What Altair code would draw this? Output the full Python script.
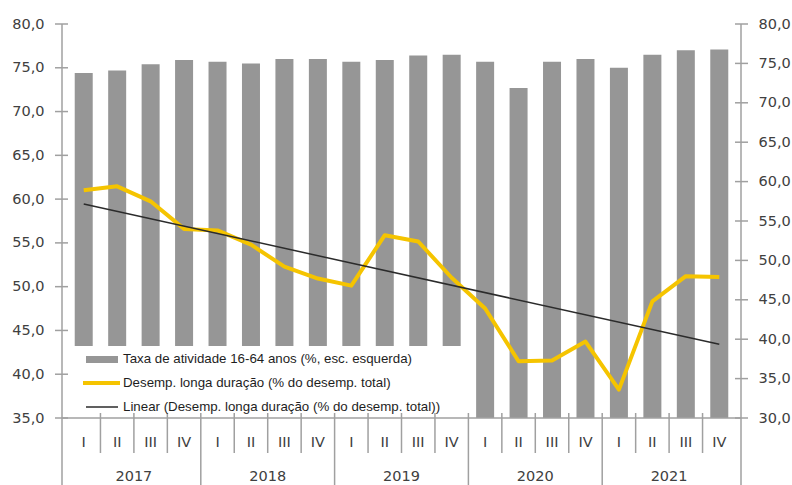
import altair as alt
import pandas as pd

# Quarterly categories
quarters = ["I", "II", "III", "IV"] * 5
years = ["2017"] * 4 + ["2018"] * 4 + ["2019"] * 4 + ["2020"] * 4 + ["2021"] * 4

# Activity rate 16-64 (%), left axis
activity_rate = [74.4, 74.7, 75.4, 75.9,
                 75.7, 75.5, 76.0, 76.0,
                 75.7, 75.9, 76.4, 76.5,
                 75.7, 72.7, 75.7, 76.0,
                 75.0, 76.5, 77.0, 77.1]

# Long-term unemployment (% of total unemployment), right axis
long_term_unemp = [58.9, 59.4, 57.5, 54.0,
                   53.8, 52.0, 49.2, 47.7,
                   46.8, 53.2, 52.4, 47.8,
                   43.9, 37.2, 37.3, 39.7,
                   33.6, 44.8, 48.0, 47.9]

left_ticks = [35, 40, 45, 50, 55, 60, 65, 70, 75, 80]
right_ticks = [30, 35, 40, 45, 50, 55, 60, 65, 70, 75, 80]

legend_labels = [
    "Taxa de atividade 16-64 anos (%, esc. esquerda)",
    "Desemp. longa duração (% do desemp. total)",
    "Linear (Desemp. longa duração (% do desemp. total))",
]

df = pd.DataFrame({
    "t": list(range(1, len(quarters) + 1)),
    "quarter": quarters,
    "year": years,
    "activity": activity_rate,
    "ltu": long_term_unemp,
})

W, H = 679, 394
GRAY_BAR = "#969696"
YELLOW = "#F5C400"
AXIS_GRAY = "#a0a0a0"
TEXT = "#404040"
FONT = "DejaVu Sans"

x_scale = alt.Scale(domain=[0.5, len(quarters) + 0.5], nice=False, zero=False)
left_scale = alt.Scale(domain=[left_ticks[0], left_ticks[-1]], nice=False, zero=False)
right_scale = alt.Scale(domain=[right_ticks[0], right_ticks[-1]], nice=False, zero=False)
label_expr = "replace(format(datum.value, '.1f'), '.', ',')"

base = alt.Chart(df)

bars = base.mark_bar(size=18, color=GRAY_BAR).encode(
    x=alt.X("t:Q", scale=x_scale, axis=None),
    y=alt.Y("activity:Q", scale=left_scale,
            axis=alt.Axis(orient="left", values=left_ticks, labelExpr=label_expr,
                          ticks=False, domain=False, grid=False, labelPadding=18,
                          labelFont=FONT, labelFontSize=14.5, labelColor=TEXT, title=None)),
    y2=alt.datum(left_ticks[0]),
)

# White legend box sitting over the lower part of the bars
legend_box = alt.Chart(pd.DataFrame({"k": [0]})).mark_rect(color="white").encode(
    x=alt.value(0), x2=alt.value(403), y=alt.value(322), y2=alt.value(H),
)

ltu_line = base.mark_line(color=YELLOW, strokeWidth=4, strokeJoin="round").encode(
    x=alt.X("t:Q", scale=x_scale, axis=None),
    y=alt.Y("ltu:Q", scale=right_scale,
            axis=alt.Axis(orient="right", values=right_ticks, labelExpr=label_expr,
                          ticks=False, domain=False, grid=False, labelPadding=17,
                          labelFont=FONT, labelFontSize=14.5, labelColor=TEXT, title=None)),
)

trend = base.transform_regression("t", "ltu").mark_line(color="#2b2b2b", strokeWidth=1.5).encode(
    x=alt.X("t:Q", scale=x_scale, axis=None),
    y=alt.Y("ltu:Q", scale=right_scale, axis=None),
)

# Cross-style tick marks on both value axes
left_tick_marks = alt.Chart(pd.DataFrame({"v": left_ticks})).mark_rule(
    color=AXIS_GRAY, strokeWidth=1.5).encode(
    y=alt.Y("v:Q", scale=left_scale, axis=None), x=alt.value(-7), x2=alt.value(6),
)
right_tick_marks = alt.Chart(pd.DataFrame({"v": right_ticks})).mark_rule(
    color=AXIS_GRAY, strokeWidth=1.5).encode(
    y=alt.Y("v:Q", scale=right_scale, axis=None), x=alt.value(W - 6), x2=alt.value(W + 7),
)

# Axis lines (value axes run down through the category labels)
frame = alt.Chart(pd.DataFrame({"k": [0]}))
left_line = frame.mark_rule(color=AXIS_GRAY, strokeWidth=1.5).encode(
    x=alt.value(0), y=alt.value(0), y2=alt.value(470))
right_line = frame.mark_rule(color=AXIS_GRAY, strokeWidth=1.5).encode(
    x=alt.value(W), y=alt.value(0), y2=alt.value(470))
bottom_line = frame.mark_rule(color=AXIS_GRAY, strokeWidth=1.5).encode(
    x=alt.value(0), x2=alt.value(W), y=alt.value(H))

# Category separators: short between quarters, long between years
quarter_sep = base.transform_filter("datum.t % 4 != 0").transform_calculate(
    b="datum.t + 0.5").mark_rule(color=AXIS_GRAY, strokeWidth=1.5).encode(
    x=alt.X("b:Q", scale=x_scale, axis=None), y=alt.value(389), y2=alt.value(429))
year_sep = base.transform_filter(f"datum.t % 4 == 0 && datum.t < {len(quarters)}").transform_calculate(
    b="datum.t + 0.5").mark_rule(color=AXIS_GRAY, strokeWidth=1.5).encode(
    x=alt.X("b:Q", scale=x_scale, axis=None), y=alt.value(389), y2=alt.value(470))

quarter_labels = base.mark_text(font=FONT, fontSize=14.5, color=TEXT, baseline="middle").encode(
    x=alt.X("t:Q", scale=x_scale, axis=None), y=alt.value(419), text="quarter:N")
year_labels = base.transform_aggregate(mid="mean(t)", groupby=["year"]).mark_text(
    font=FONT, fontSize=14.5, color=TEXT, baseline="middle").encode(
    x=alt.X("mid:Q", scale=x_scale, axis=None), y=alt.value(453), text="year:N")

# Legend entries
leg_font = dict(font="Liberation Sans", fontSize=13.3, color="#1e1e1e", align="left", baseline="middle")
leg_sym_bar = frame.mark_rect(color=GRAY_BAR).encode(
    x=alt.value(24), x2=alt.value(56), y=alt.value(332), y2=alt.value(339))
leg_sym_ltu = frame.mark_rule(color=YELLOW, strokeWidth=4).encode(
    x=alt.value(21), x2=alt.value(58), y=alt.value(359))
leg_sym_trend = frame.mark_rule(color="#2b2b2b", strokeWidth=1.5).encode(
    x=alt.value(24), x2=alt.value(56), y=alt.value(383))
leg_texts = [
    alt.Chart(pd.DataFrame({"label": [lab]})).mark_text(**leg_font).encode(
        x=alt.value(61), y=alt.value(yy), text="label:N")
    for lab, yy in zip(legend_labels, [335, 359, 383])
]

chart = alt.layer(
    bars, legend_box, ltu_line, trend,
    left_tick_marks, right_tick_marks, left_line, right_line, bottom_line,
    quarter_sep, year_sep, quarter_labels, year_labels,
    leg_sym_bar, leg_sym_ltu, leg_sym_trend, *leg_texts,
).resolve_scale(y="independent").properties(
    width=W, height=H,
    autosize=alt.AutoSizeParams(type="none"),
    padding={"left": 62, "top": 24, "right": 51, "bottom": 67},
    background="white",
).configure_view(stroke=None)

chart.save("out.html", embed_options={"renderer": "svg", "actions": False})
